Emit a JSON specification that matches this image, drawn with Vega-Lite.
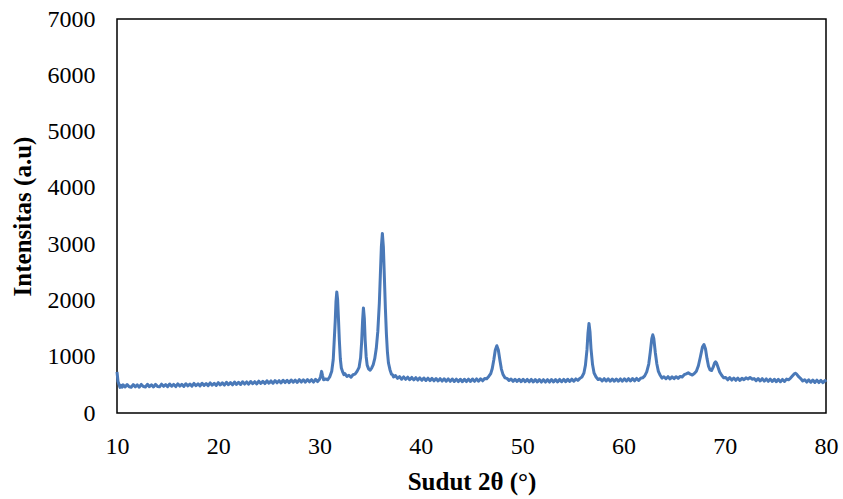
{
  "$schema": "https://vega.github.io/schema/vega-lite/v6.json",
  "width": 709,
  "height": 394,
  "autosize": {"type": "none"},
  "padding": {"left": 117, "top": 19, "right": 17, "bottom": 86},
  "background": "white",
  "config": {
    "view": {"stroke": "#000", "strokeWidth": 1.5},
    "axis": {"labelFont": "Liberation Serif", "titleFont": "Liberation Serif", "labelColor": "#000", "titleColor": "#000", "grid": false, "ticks": false, "domain": false, "labelFontSize": 24, "titleFontSize": 25, "titleFontWeight": "bold", "format": "d"}
  },
  "data": {"values": [
    {"x":10.0,"y":730},{"x":10.1,"y":560},{"x":10.2,"y":505},{"x":10.3,"y":455},{"x":10.4,"y":490},{"x":10.5,"y":460},{"x":10.6,"y":500},{"x":10.8,"y":462},{"x":11.0,"y":505},{"x":11.2,"y":465},{"x":11.4,"y":458},{"x":11.6,"y":505},{"x":11.8,"y":465},{"x":12.0,"y":500},{"x":12.2,"y":458},{"x":12.4,"y":508},{"x":12.6,"y":470},{"x":12.8,"y":462},{"x":13.0,"y":510},{"x":13.2,"y":468},{"x":13.4,"y":502},{"x":13.6,"y":462},{"x":13.8,"y":508},{"x":14.0,"y":472},{"x":14.2,"y":465},{"x":14.4,"y":512},{"x":14.6,"y":474},{"x":14.8,"y":505},{"x":15.0,"y":468},{"x":15.2,"y":515},{"x":15.4,"y":475},{"x":15.6,"y":508},{"x":15.8,"y":470},{"x":16.0,"y":518},{"x":16.2,"y":478},{"x":16.4,"y":510},{"x":16.6,"y":474},{"x":16.8,"y":520},{"x":17.0,"y":482},{"x":17.2,"y":515},{"x":17.4,"y":478},{"x":17.6,"y":525},{"x":17.8,"y":485},{"x":18.0,"y":520},{"x":18.2,"y":482},{"x":18.4,"y":528},{"x":18.6,"y":490},{"x":18.8,"y":524},{"x":19.0,"y":486},{"x":19.2,"y":534},{"x":19.4,"y":494},{"x":19.6,"y":528},{"x":19.8,"y":490},{"x":20.0,"y":540},{"x":20.2,"y":498},{"x":20.4,"y":535},{"x":20.6,"y":496},{"x":20.8,"y":545},{"x":21.0,"y":503},{"x":21.2,"y":540},{"x":21.4,"y":500},{"x":21.6,"y":550},{"x":21.8,"y":508},{"x":22.0,"y":546},{"x":22.2,"y":506},{"x":22.4,"y":555},{"x":22.6,"y":514},{"x":22.8,"y":552},{"x":23.0,"y":512},{"x":23.2,"y":560},{"x":23.4,"y":520},{"x":23.6,"y":556},{"x":23.8,"y":516},{"x":24.0,"y":566},{"x":24.2,"y":526},{"x":24.4,"y":562},{"x":24.6,"y":522},{"x":24.8,"y":572},{"x":25.0,"y":530},{"x":25.2,"y":570},{"x":25.4,"y":528},{"x":25.6,"y":576},{"x":25.8,"y":536},{"x":26.0,"y":574},{"x":26.2,"y":534},{"x":26.4,"y":582},{"x":26.6,"y":540},{"x":26.8,"y":580},{"x":27.0,"y":538},{"x":27.2,"y":586},{"x":27.4,"y":546},{"x":27.6,"y":584},{"x":27.8,"y":544},{"x":28.0,"y":592},{"x":28.2,"y":550},{"x":28.4,"y":590},{"x":28.6,"y":548},{"x":28.8,"y":594},{"x":29.0,"y":554},{"x":29.2,"y":592},{"x":29.4,"y":550},{"x":29.6,"y":598},{"x":29.8,"y":558},{"x":30.0,"y":600},{"x":30.1,"y":650},{"x":30.2,"y":740},{"x":30.3,"y":660},{"x":30.4,"y":590},{"x":30.6,"y":605},{"x":30.8,"y":590},{"x":31.0,"y":640},{"x":31.2,"y":740},{"x":31.35,"y":950},{"x":31.45,"y":1300},{"x":31.55,"y":1650},{"x":31.62,"y":1980},{"x":31.7,"y":2150},{"x":31.78,"y":2020},{"x":31.86,"y":1700},{"x":31.95,"y":1300},{"x":32.05,"y":960},{"x":32.15,"y":800},{"x":32.3,"y":720},{"x":32.4,"y":680},{"x":32.5,"y":700},{"x":32.7,"y":650},{"x":32.9,"y":670},{"x":33.1,"y":635},{"x":33.3,"y":680},{"x":33.5,"y":690},{"x":33.7,"y":740},{"x":33.9,"y":810},{"x":34.05,"y":980},{"x":34.15,"y":1250},{"x":34.25,"y":1650},{"x":34.33,"y":1866},{"x":34.42,"y":1680},{"x":34.5,"y":1300},{"x":34.6,"y":1000},{"x":34.7,"y":850},{"x":34.85,"y":780},{"x":35.0,"y":760},{"x":35.15,"y":800},{"x":35.3,"y":860},{"x":35.45,"y":970},{"x":35.6,"y":1150},{"x":35.75,"y":1450},{"x":35.9,"y":1950},{"x":36.0,"y":2450},{"x":36.1,"y":2950},{"x":36.2,"y":3190},{"x":36.3,"y":2950},{"x":36.4,"y":2400},{"x":36.5,"y":1850},{"x":36.6,"y":1400},{"x":36.7,"y":1080},{"x":36.8,"y":890},{"x":36.95,"y":770},{"x":37.1,"y":690},{"x":37.2,"y":680},{"x":37.3,"y":640},{"x":37.5,"y":665},{"x":37.7,"y":615},{"x":37.9,"y":645},{"x":38.1,"y":600},{"x":38.3,"y":642},{"x":38.5,"y":598},{"x":38.7,"y":636},{"x":38.9,"y":592},{"x":39.1,"y":632},{"x":39.3,"y":588},{"x":39.5,"y":628},{"x":39.7,"y":585},{"x":39.9,"y":624},{"x":40.1,"y":582},{"x":40.3,"y":622},{"x":40.5,"y":578},{"x":40.7,"y":620},{"x":40.9,"y":575},{"x":41.1,"y":616},{"x":41.3,"y":572},{"x":41.5,"y":612},{"x":41.7,"y":570},{"x":41.9,"y":610},{"x":42.1,"y":566},{"x":42.3,"y":608},{"x":42.5,"y":564},{"x":42.7,"y":606},{"x":42.9,"y":562},{"x":43.1,"y":604},{"x":43.3,"y":560},{"x":43.5,"y":602},{"x":43.7,"y":558},{"x":43.9,"y":600},{"x":44.1,"y":556},{"x":44.3,"y":600},{"x":44.5,"y":558},{"x":44.7,"y":602},{"x":44.9,"y":560},{"x":45.1,"y":604},{"x":45.3,"y":562},{"x":45.5,"y":606},{"x":45.7,"y":565},{"x":45.9,"y":608},{"x":46.1,"y":572},{"x":46.3,"y":614},{"x":46.5,"y":608},{"x":46.7,"y":650},{"x":46.9,"y":700},{"x":47.05,"y":790},{"x":47.2,"y":940},{"x":47.35,"y":1120},{"x":47.5,"y":1196},{"x":47.65,"y":1120},{"x":47.8,"y":940},{"x":47.95,"y":780},{"x":48.1,"y":690},{"x":48.3,"y":625},{"x":48.5,"y":615},{"x":48.7,"y":578},{"x":48.9,"y":602},{"x":49.1,"y":562},{"x":49.3,"y":600},{"x":49.5,"y":560},{"x":49.7,"y":598},{"x":49.9,"y":556},{"x":50.1,"y":598},{"x":50.3,"y":556},{"x":50.5,"y":596},{"x":50.7,"y":554},{"x":50.9,"y":596},{"x":51.1,"y":552},{"x":51.3,"y":594},{"x":51.5,"y":552},{"x":51.7,"y":594},{"x":51.9,"y":550},{"x":52.1,"y":592},{"x":52.3,"y":550},{"x":52.5,"y":592},{"x":52.7,"y":550},{"x":52.9,"y":594},{"x":53.1,"y":552},{"x":53.3,"y":594},{"x":53.5,"y":552},{"x":53.7,"y":596},{"x":53.9,"y":555},{"x":54.1,"y":598},{"x":54.3,"y":556},{"x":54.5,"y":600},{"x":54.7,"y":560},{"x":54.9,"y":602},{"x":55.1,"y":565},{"x":55.3,"y":606},{"x":55.5,"y":580},{"x":55.7,"y":615},{"x":55.9,"y":640},{"x":56.1,"y":710},{"x":56.25,"y":850},{"x":56.4,"y":1120},{"x":56.5,"y":1420},{"x":56.6,"y":1590},{"x":56.7,"y":1440},{"x":56.8,"y":1140},{"x":56.95,"y":860},{"x":57.1,"y":710},{"x":57.3,"y":640},{"x":57.5,"y":595},{"x":57.7,"y":608},{"x":57.9,"y":570},{"x":58.1,"y":610},{"x":58.3,"y":568},{"x":58.5,"y":606},{"x":58.7,"y":565},{"x":58.9,"y":604},{"x":59.1,"y":564},{"x":59.3,"y":604},{"x":59.5,"y":565},{"x":59.7,"y":606},{"x":59.9,"y":566},{"x":60.1,"y":608},{"x":60.3,"y":568},{"x":60.5,"y":610},{"x":60.7,"y":570},{"x":60.9,"y":612},{"x":61.1,"y":572},{"x":61.3,"y":614},{"x":61.5,"y":578},{"x":61.7,"y":618},{"x":61.9,"y":625},{"x":62.1,"y":660},{"x":62.3,"y":730},{"x":62.5,"y":870},{"x":62.65,"y":1080},{"x":62.8,"y":1320},{"x":62.9,"y":1390},{"x":63.0,"y":1320},{"x":63.15,"y":1070},{"x":63.3,"y":870},{"x":63.45,"y":740},{"x":63.6,"y":680},{"x":63.8,"y":620},{"x":64.0,"y":645},{"x":64.2,"y":608},{"x":64.4,"y":645},{"x":64.6,"y":606},{"x":64.8,"y":642},{"x":65.0,"y":610},{"x":65.2,"y":645},{"x":65.4,"y":615},{"x":65.6,"y":650},{"x":65.8,"y":640},{"x":66.0,"y":680},{"x":66.2,"y":695},{"x":66.4,"y":715},{"x":66.6,"y":690},{"x":66.8,"y":675},{"x":67.0,"y":700},{"x":67.2,"y":740},{"x":67.4,"y":840},{"x":67.6,"y":1000},{"x":67.8,"y":1170},{"x":67.95,"y":1215},{"x":68.1,"y":1140},{"x":68.25,"y":970},{"x":68.4,"y":830},{"x":68.55,"y":765},{"x":68.7,"y":755},{"x":68.85,"y":810},{"x":69.0,"y":890},{"x":69.1,"y":910},{"x":69.2,"y":885},{"x":69.35,"y":810},{"x":69.5,"y":730},{"x":69.7,"y":670},{"x":69.9,"y":625},{"x":70.1,"y":630},{"x":70.3,"y":590},{"x":70.5,"y":628},{"x":70.7,"y":585},{"x":70.9,"y":622},{"x":71.1,"y":580},{"x":71.3,"y":620},{"x":71.5,"y":578},{"x":71.7,"y":618},{"x":71.9,"y":590},{"x":72.1,"y":625},{"x":72.3,"y":605},{"x":72.5,"y":632},{"x":72.7,"y":600},{"x":72.9,"y":612},{"x":73.1,"y":575},{"x":73.3,"y":612},{"x":73.5,"y":570},{"x":73.7,"y":610},{"x":73.9,"y":566},{"x":74.1,"y":606},{"x":74.3,"y":562},{"x":74.5,"y":602},{"x":74.7,"y":560},{"x":74.9,"y":600},{"x":75.1,"y":556},{"x":75.3,"y":598},{"x":75.5,"y":555},{"x":75.7,"y":596},{"x":75.9,"y":560},{"x":76.1,"y":602},{"x":76.3,"y":590},{"x":76.5,"y":620},{"x":76.7,"y":660},{"x":76.9,"y":700},{"x":77.0,"y":705},{"x":77.1,"y":690},{"x":77.3,"y":645},{"x":77.5,"y":612},{"x":77.7,"y":570},{"x":77.9,"y":590},{"x":78.1,"y":550},{"x":78.3,"y":588},{"x":78.5,"y":546},{"x":78.7,"y":586},{"x":78.9,"y":542},{"x":79.1,"y":584},{"x":79.3,"y":540},{"x":79.5,"y":580},{"x":79.7,"y":538},{"x":79.9,"y":578},{"x":80.0,"y":550}
  ]},
  "mark": {"type": "line", "color": "#4a79b8", "strokeWidth": 3, "strokeJoin": "round"},
  "encoding": {
    "x": {"field": "x", "type": "quantitative", "scale": {"domain": [10, 80], "nice": false, "zero": false}, "axis": {"values": [10, 20, 30, 40, 50, 60, 70, 80], "labelPadding": 21, "title": "Sudut 2θ (°)", "titlePadding": 11, "labelFlush": false}},
    "y": {"field": "y", "type": "quantitative", "scale": {"domain": [0, 7000], "nice": false}, "axis": {"values": [0, 1000, 2000, 3000, 4000, 5000, 6000, 7000], "labelPadding": 22, "title": "Intensitas (a.u)", "titlePadding": 12, "labelFlush": false}}
  }
}
